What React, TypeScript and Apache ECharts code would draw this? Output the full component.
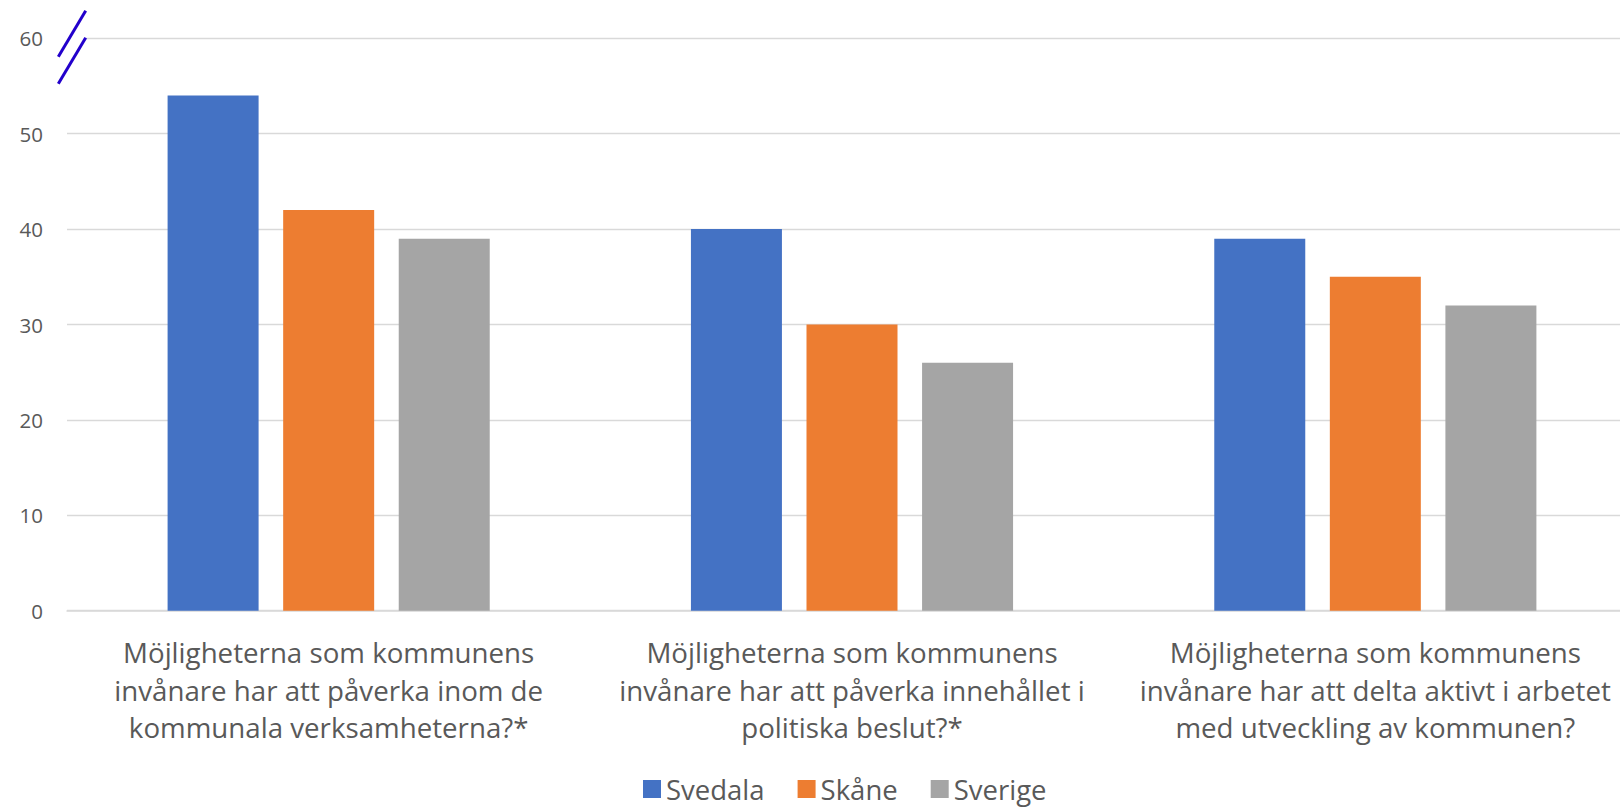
import React, { useEffect, useRef } from "react";
import * as echarts from "echarts";

const categories = [
  "Möjligheterna som kommunens\ninvånare har att påverka inom de\nkommunala verksamheterna?*",
  "Möjligheterna som kommunens\ninvånare har att påverka innehållet i\npolitiska beslut?*",
  "Möjligheterna som kommunens\ninvånare har att delta aktivt i arbetet\nmed utveckling av kommunen?",
];
const seriesNames = ["Svedala", "Skåne", "Sverige"];
const svedala = [54, 40, 39];
const skane = [42, 30, 35];
const sverige = [39, 26, 32];
const colors = ["#4472C4", "#ED7D31", "#A5A5A5"];

const FONT = "'Open Sans', 'Noto Sans', sans-serif";

export default function App() {
  const ref = useRef<HTMLDivElement>(null);

  useEffect(() => {
    document.body.style.margin = "0";
    document.body.style.overflow = "hidden";
    if (!ref.current) return;
    const chart = echarts.init(ref.current, null, { renderer: "svg" });
    const data = [svedala, skane, sverige];
    chart.setOption({
      animation: false,
      backgroundColor: "#ffffff",
      color: colors,
      grid: { left: 67, right: 3, top: 38.3, bottom: 198.3, containLabel: false },
      legend: {
        left: 638,
        top: 770,
        itemWidth: 18,
        itemHeight: 18,
        itemGap: 33,
        icon: "rect",
        textStyle: { fontFamily: FONT, fontSize: 27.5, color: "#595959", lineHeight: 26, padding: [0, 0, 0, 0] },
        data: seriesNames,
      },
      xAxis: {
        type: "category",
        data: categories,
        axisLine: { lineStyle: { color: "#d9d9d9", width: 1.5 } },
        axisTick: { show: false },
        axisLabel: {
          interval: 0,
          margin: 23,
          fontFamily: FONT,
          fontSize: 27.7,
          lineHeight: 37.5,
          color: "#595959",
          align: "center",
        },
      },
      yAxis: {
        type: "value",
        min: 0,
        max: 60,
        interval: 10,
        axisLine: { show: false },
        axisTick: { show: false },
        splitLine: { lineStyle: { color: "#d9d9d9", width: 1.3 } },
        axisLabel: { margin: 24, fontFamily: FONT, fontSize: 20.5, color: "#595959" },
      },
      series: seriesNames.map((name, i) => ({
        name,
        type: "bar",
        data: data[i],
        barWidth: 91,
        barGap: "27%",
        itemStyle: { color: colors[i] },
      })),
      graphic: [
        { type: "rect", shape: { x: 60, y: 35, width: 26, height: 7 }, style: { fill: "#ffffff" }, z: 100 },
        { type: "line", shape: { x1: 58.3, y1: 56.7, x2: 85.7, y2: 10.7 }, style: { stroke: "#2200cc", lineWidth: 3 }, z: 101 },
        { type: "line", shape: { x1: 58.3, y1: 83.7, x2: 85.7, y2: 37.7 }, style: { stroke: "#2200cc", lineWidth: 3 }, z: 101 },
      ],
    });
    return () => chart.dispose();
  }, []);

  return <div ref={ref} style={{ width: 1640, height: 809 }} />;
}
